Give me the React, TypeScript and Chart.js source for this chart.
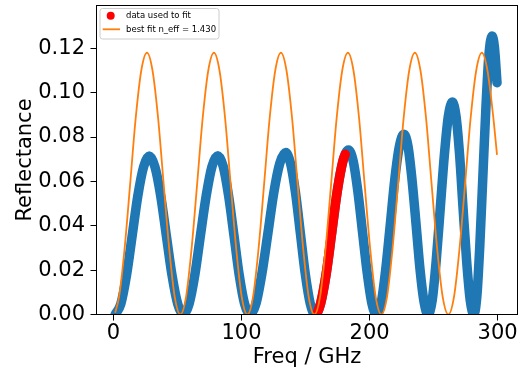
import React, { useEffect, useRef } from 'react';
import { Chart, registerables } from 'chart.js';

Chart.register(...registerables);

// ---------- data ----------
const blueX = [
  1.4, 5.8, 10.3, 14.7, 19.1, 23.6, 28.0, 32.4, 36.9, 41.3, 45.7, 50.2, 54.6,
  59.1, 63.6, 68.0, 72.5, 77.0, 81.5, 85.7, 89.9, 94.1, 98.2, 102.4, 106.6,
  111.3, 115.9, 120.6, 125.2, 129.9, 134.5, 138.3, 142.2, 146.0, 149.8, 153.7, 157.5,
  161.8, 166.2, 170.5, 174.8, 179.2, 183.5, 187.2, 190.8, 194.5, 198.2, 201.8, 205.5,
  209.1, 212.6, 216.2, 219.7, 223.3, 226.8, 230.0, 233.1, 236.3, 239.4, 242.6, 245.7,
  248.9, 252.0, 255.2, 258.4, 261.5, 264.7, 267.5, 270.3, 273.0, 275.8, 278.6, 281.4,
  283.8, 286.1, 288.5, 290.9, 293.2, 295.6, 297.5, 299.5,
];
const blueY = [
  0, 0.0048, 0.0179, 0.0357, 0.0536, 0.0666, 0.0714, 0.0666, 0.0536, 0.0357, 0.0179, 0.0048, 0,
  0.0048, 0.0179, 0.0358, 0.0537, 0.0668, 0.0716, 0.0668, 0.0537, 0.0358, 0.0179, 0.0048, 0,
  0.0049, 0.0183, 0.0365, 0.0548, 0.0681, 0.0730, 0.0681, 0.0548, 0.0365, 0.0183, 0.0049, 0,
  0.0050, 0.0186, 0.0371, 0.0557, 0.0692, 0.0742, 0.0692, 0.0557, 0.0371, 0.0186, 0.0050, 0,
  0.0054, 0.0203, 0.0407, 0.0610, 0.0759, 0.0813, 0.0759, 0.0610, 0.0407, 0.0203, 0.0054, 0,
  0.0064, 0.0240, 0.0479, 0.0719, 0.0894, 0.0958, 0.0894, 0.0719, 0.0479, 0.0240, 0.0064, 0,
  0.0084, 0.0314, 0.0628, 0.0941, 0.1171, 0.1255, 0.1205, 0.1045,
];

const fitDataX = [159.5, 161.8, 166.2, 170.5, 174.8, 179.2, 181.0];
const fitDataY = [0.0011, 0.0050, 0.0186, 0.0371, 0.0557, 0.0692, 0.0722];

const bestFitX = [
  1.4, 4.4, 8.7, 13.1, 17.4, 21.8, 26.2, 30.5, 34.9, 39.2, 43.6, 47.9,
  52.3, 56.7, 61.0, 65.4, 69.7, 74.1, 78.5, 82.8, 87.2, 91.5, 95.9, 100.2,
  104.6, 109.0, 113.3, 117.7, 122.0, 126.4, 130.8, 135.1, 139.5, 143.8, 148.2, 152.5,
  156.9, 161.3, 165.6, 170.0, 174.3, 178.7, 183.1, 187.4, 191.8, 196.1, 200.5, 204.8,
  209.2, 213.6, 217.9, 222.3, 226.6, 231.0, 235.4, 239.7, 244.1, 248.4, 252.8, 257.1,
  261.5, 265.9, 270.2, 274.6, 278.9, 283.3, 287.7, 292.0, 296.4, 299.5,
];
const bestFitY = [
  0.0008, 0.0079, 0.0295, 0.0590, 0.0885, 0.1101, 0.1180, 0.1101, 0.0885, 0.0590, 0.0295, 0.0079,
  0, 0.0079, 0.0295, 0.0590, 0.0885, 0.1101, 0.1180, 0.1101, 0.0885, 0.0590, 0.0295, 0.0079,
  0, 0.0079, 0.0295, 0.0590, 0.0885, 0.1101, 0.1180, 0.1101, 0.0885, 0.0590, 0.0295, 0.0079,
  0, 0.0079, 0.0295, 0.0590, 0.0885, 0.1101, 0.1180, 0.1101, 0.0885, 0.0590, 0.0295, 0.0079,
  0, 0.0079, 0.0295, 0.0590, 0.0885, 0.1101, 0.1180, 0.1101, 0.0885, 0.0590, 0.0295, 0.0079,
  0, 0.0079, 0.0295, 0.0590, 0.0885, 0.1101, 0.1180, 0.1101, 0.0900, 0.0720,
];

const xTicks = [0, 100, 200, 300];
const yTicks = [0, 0.02, 0.04, 0.06, 0.08, 0.1, 0.12];
const legendLabels = ['data used to fit', 'best fit n_eff = 1.430'];
const xTitle = 'Freq / GHz';
const yTitle = 'Reflectance';

const BLUE = '#1f77b4';
const ORANGE = '#ff7f0e';
const RED = '#ff0000';
const FONT = '"DejaVu Sans", sans-serif';

const toPts = (xs: number[], ys: number[]) => xs.map((x, i) => ({ x, y: ys[i] }));

const framePlugin = {
  id: 'mplFrame',
  afterDraw(chart: any) {
    const ctx = chart.ctx as CanvasRenderingContext2D;
    const a = chart.chartArea;
    ctx.save();
    ctx.strokeStyle = '#000';
    ctx.lineWidth = 1;
    ctx.strokeRect(a.left, a.top, a.right - a.left, a.bottom - a.top);

    // legend box
    const bx = a.left + 3.5;
    const by = a.top + 3;
    const bw = 119;
    const bh = 30.5;
    const r = 2.5;
    ctx.beginPath();
    ctx.moveTo(bx + r, by);
    ctx.lineTo(bx + bw - r, by);
    ctx.arcTo(bx + bw, by, bx + bw, by + r, r);
    ctx.lineTo(bx + bw, by + bh - r);
    ctx.arcTo(bx + bw, by + bh, bx + bw - r, by + bh, r);
    ctx.lineTo(bx + r, by + bh);
    ctx.arcTo(bx, by + bh, bx, by + bh - r, r);
    ctx.lineTo(bx, by + r);
    ctx.arcTo(bx, by, bx + r, by, r);
    ctx.closePath();
    ctx.fillStyle = 'rgba(255,255,255,0.8)';
    ctx.fill();
    ctx.strokeStyle = '#cccccc';
    ctx.lineWidth = 1;
    ctx.stroke();

    const row1 = by + 7.2;
    const row2 = by + 20.8;
    ctx.fillStyle = RED;
    ctx.beginPath();
    ctx.arc(bx + 10.7, row1, 4, 0, Math.PI * 2);
    ctx.fill();

    ctx.strokeStyle = ORANGE;
    ctx.lineWidth = 1.8;
    ctx.beginPath();
    ctx.moveTo(bx + 2.7, row2);
    ctx.lineTo(bx + 20, row2);
    ctx.stroke();

    ctx.fillStyle = '#000';
    ctx.font = `8.5px ${FONT}`;
    ctx.textAlign = 'left';
    ctx.textBaseline = 'middle';
    ctx.fillText(legendLabels[0], bx + 26, row1);
    ctx.fillText(legendLabels[1], bx + 26, row2);
    ctx.restore();
  },
};

export default function App() {
  const ref = useRef<HTMLCanvasElement>(null);

  useEffect(() => {
    const canvas = ref.current;
    if (!canvas) return;
    Chart.defaults.font.family = FONT;
    const tickFont = { family: FONT, size: 21 };
    const chart = new Chart(canvas, {
      type: 'scatter',
      data: {
        datasets: [
          {
            label: legendLabels[1],
            data: toPts(bestFitX, bestFitY),
            showLine: true,
            borderColor: ORANGE,
            backgroundColor: ORANGE,
            borderWidth: 1.8,
            pointRadius: 0,
            cubicInterpolationMode: 'monotone',
            clip: 0,
            order: 0,
          },
          {
            label: legendLabels[0],
            data: toPts(fitDataX, fitDataY),
            showLine: true,
            borderColor: RED,
            backgroundColor: RED,
            borderWidth: 9.5,
            borderCapStyle: 'round',
            borderJoinStyle: 'round',
            pointRadius: 0,
            cubicInterpolationMode: 'monotone',
            clip: 0,
            order: 1,
          },
          {
            label: 'data',
            data: toPts(blueX, blueY),
            showLine: true,
            borderColor: BLUE,
            backgroundColor: BLUE,
            borderWidth: 9.5,
            borderCapStyle: 'round',
            borderJoinStyle: 'round',
            pointRadius: 0,
            cubicInterpolationMode: 'monotone',
            clip: 0,
            order: 2,
          },
        ],
      } as any,
      options: {
        responsive: false,
        devicePixelRatio: 1,
        animation: false,
        events: [],
        layout: { padding: { top: 5.5, right: 3.5, left: 0, bottom: 0 } },
        plugins: { legend: { display: false }, tooltip: { enabled: false } },
        scales: {
          x: {
            type: 'linear',
            position: 'bottom',
            min: -13.2,
            max: 315.5,
            afterBuildTicks: (s: any) => {
              s.ticks = xTicks.map((v) => ({ value: v }));
            },
            afterFit: (s: any) => {
              s.height = 60.5;
              s.paddingLeft = 0;
              s.paddingRight = 0;
            },
            grid: { drawOnChartArea: false, drawTicks: true, tickLength: 6, color: '#000', lineWidth: 1 },
            border: { display: false },
            ticks: {
              font: tickFont,
              color: '#000',
              padding: 0,
              maxRotation: 0,
              autoSkip: false,
              callback: (v: any) => String(v),
            },
            title: {
              display: true,
              text: xTitle,
              color: '#000',
              font: tickFont,
              padding: { top: 0, bottom: 5 },
            },
          },
          y: {
            type: 'linear',
            min: 0,
            max: 0.1393,
            afterBuildTicks: (s: any) => {
              s.ticks = yTicks.map((v) => ({ value: v }));
            },
            afterFit: (s: any) => {
              s.width = 96.5;
              s.paddingTop = 0;
              s.paddingBottom = 0;
            },
            grid: { drawOnChartArea: false, drawTicks: true, tickLength: 6, color: '#000', lineWidth: 1 },
            border: { display: false },
            ticks: {
              font: tickFont,
              color: '#000',
              padding: 5.5,
              autoSkip: false,
              callback: (v: any) => Number(v).toFixed(2),
            },
            title: {
              display: true,
              text: yTitle,
              color: '#000',
              font: tickFont,
              padding: { top: 13, bottom: 0 },
            },
          },
        },
      } as any,
      plugins: [framePlugin],
    });
    return () => chart.destroy();
  }, []);

  return (
    <div style={{ position: 'absolute', left: 0, top: 0, width: 521, height: 375, background: '#fff' }}>
      <canvas ref={ref} width={521} height={375} style={{ display: 'block', width: 521, height: 375 }} />
    </div>
  );
}
